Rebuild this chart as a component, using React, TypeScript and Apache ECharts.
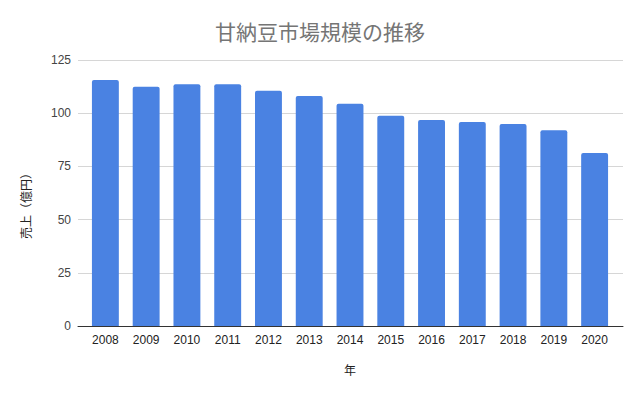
import React, { useEffect, useRef } from "react";
import * as echarts from "echarts";

const years = ["2008", "2009", "2010", "2011", "2012", "2013", "2014", "2015", "2016", "2017", "2018", "2019", "2020"];
const sales = [115.6, 112.4, 113.6, 113.6, 110.6, 108.1, 104.4, 98.8, 96.8, 95.9, 94.9, 92.0, 81.3];
const yTicks = [0, 25, 50, 75, 100, 125];

const FONT = "'Liberation Sans', Arial, 'Noto Sans CJK JP', sans-serif";

export default function App() {
  const ref = useRef<HTMLDivElement>(null);
  useEffect(() => {
    if (!ref.current) return;
    const chart = echarts.init(ref.current, undefined, { renderer: "svg" });
    const yMin = yTicks[0];
    const yMax = yTicks[yTicks.length - 1];
    const yInt = yTicks[1] - yTicks[0];
    chart.setOption({
      animation: false,
      backgroundColor: "#ffffff",
      title: {
        text: "甘納豆市場規模の推移",
        left: "center",
        top: 15,
        textStyle: {
          fontFamily: "'Noto Sans CJK JP', sans-serif",
          fontSize: 21,
          fontWeight: "normal",
          color: "#757575",
        },
      },
      grid: [
        { left: 78, right: 17, top: 60, bottom: 68 },
        { left: 85, right: 25, top: 60, bottom: 68 },
      ],
      xAxis: [
        {
          gridIndex: 0,
          type: "category",
          data: years,
          axisLine: { show: true, lineStyle: { color: "#333333", width: 1 } },
          axisTick: { show: false },
          axisLabel: { show: false },
        },
        {
          gridIndex: 1,
          type: "category",
          data: years,
          axisLine: { show: false },
          axisTick: { show: false },
          axisLabel: {
            margin: 8,
            fontFamily: FONT,
            fontSize: 12,
            color: "#222222",
          },
          name: "年",
          nameLocation: "middle",
          nameGap: 37,
          nameTextStyle: {
            fontFamily: "'Noto Sans CJK JP', sans-serif",
            fontSize: 12,
            color: "#222222",
          },
        },
      ],
      yAxis: [
        {
          gridIndex: 0,
          type: "value",
          min: yMin,
          max: yMax,
          interval: yInt,
          axisLine: { show: false },
          axisTick: { show: false },
          axisLabel: {
            margin: 7,
            fontFamily: FONT,
            fontSize: 12,
            color: "#444444",
          },
          splitLine: { show: true, lineStyle: { color: "#d6d6d6", width: 1 } },
        },
        {
          gridIndex: 1,
          type: "value",
          min: yMin,
          max: yMax,
          interval: yInt,
          show: false,
          splitLine: { show: false },
        },
      ],
      graphic: [
        {
          type: "text",
          x: 25,
          y: 203,
          rotation: Math.PI / 2,
          style: {
            text: "売上（億円）",
            fontFamily: "'Noto Sans CJK JP', sans-serif",
            fontSize: 12,
            fill: "#222222",
            align: "center",
            verticalAlign: "middle",
          },
        },
      ],
      series: [
        {
          type: "bar",
          xAxisIndex: 1,
          yAxisIndex: 1,
          data: sales,
          barCategoryGap: "34%",
          itemStyle: { color: "#4a82e2", borderRadius: [2, 2, 0, 0] },
          z: 1,
        },
      ],
    });
    return () => chart.dispose();
  }, []);
  return (
    <div
      ref={ref}
      style={{ position: "fixed", left: 0, top: 0, width: 640, height: 394 }}
    />
  );
}
